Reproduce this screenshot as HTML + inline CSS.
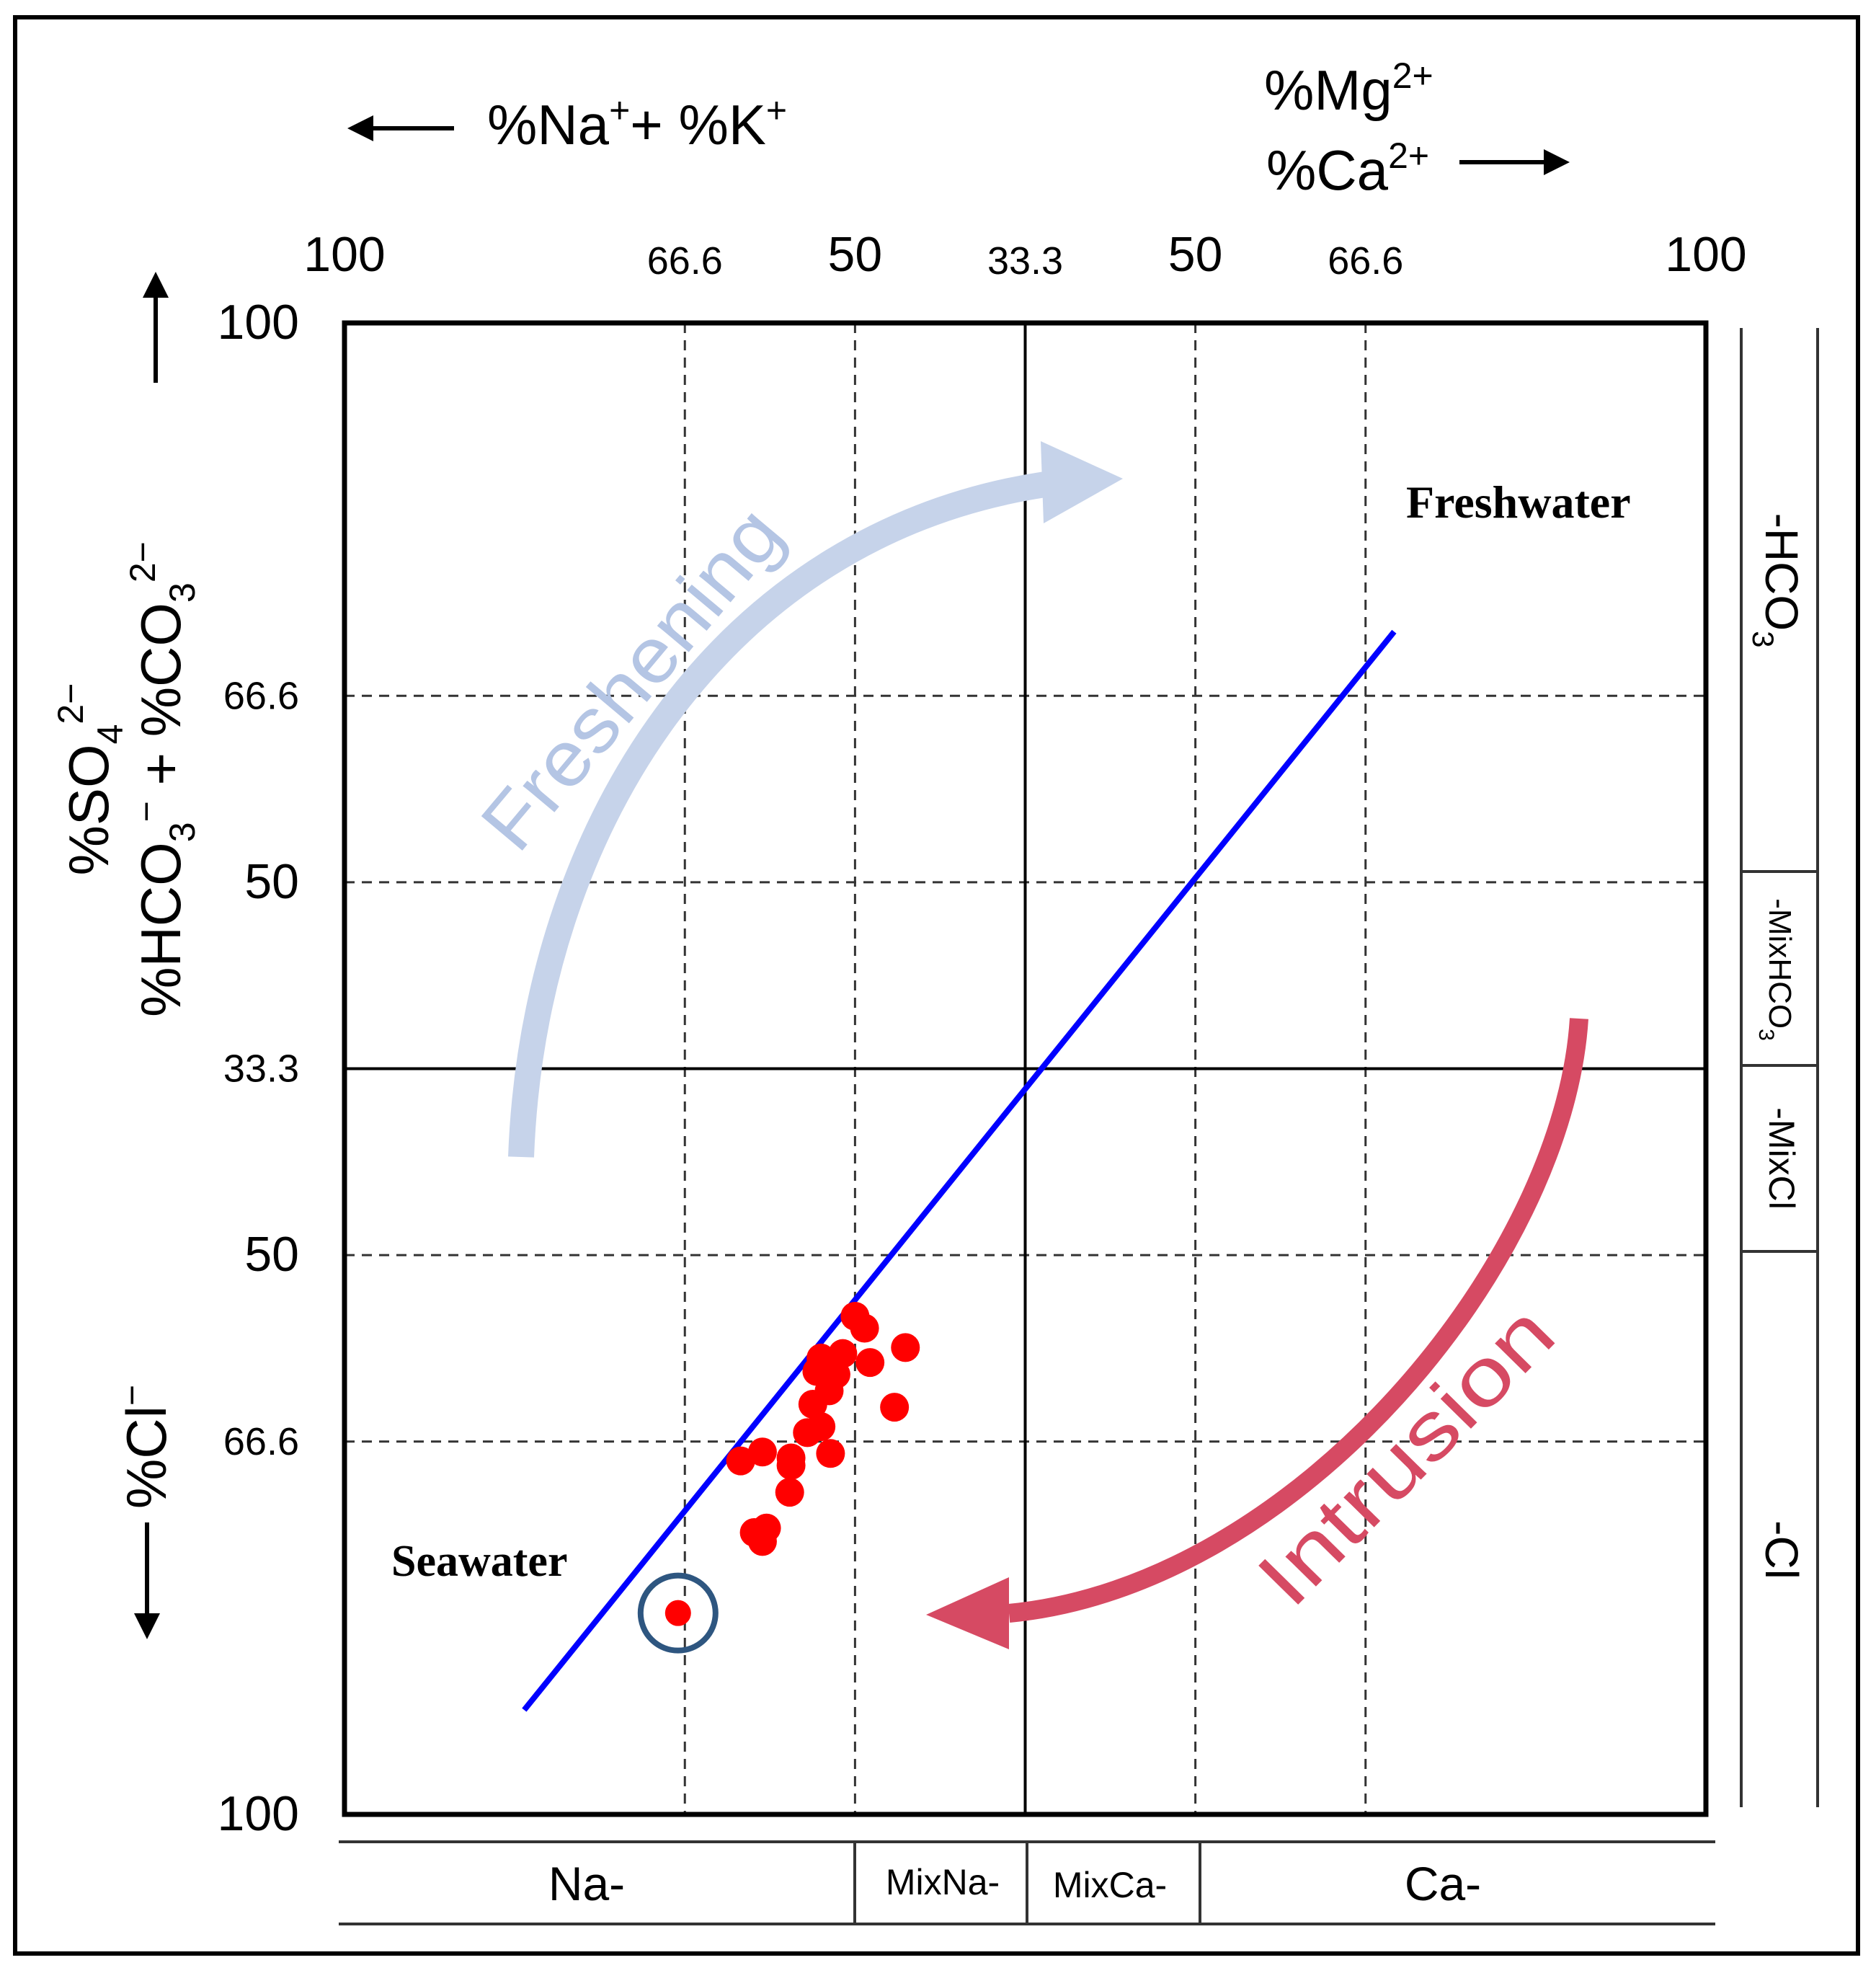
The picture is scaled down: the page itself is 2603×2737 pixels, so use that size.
<!DOCTYPE html>
<html><head><meta charset="utf-8"><style>
html,body{margin:0;padding:0;background:#fff}
svg{display:block}
text{font-family:"Liberation Sans",sans-serif;fill:#000}
.ser{font-family:"Liberation Serif",serif;font-weight:bold}
</style></head><body>
<svg id="chart" width="2603" height="2737" viewBox="0 0 2603 2737" xmlns="http://www.w3.org/2000/svg">
<defs>
<marker id="ah" markerWidth="6" markerHeight="6" refX="5" refY="3" orient="auto" markerUnits="strokeWidth"><path d="M0,0 L6,3 L0,6 Z" fill="#000"/></marker>
</defs>
<rect x="21" y="24" width="2557" height="2686" fill="none" stroke="#000" stroke-width="6"/>
<g id="grid"></g>
<g id="marks"></g>
<rect x="478" y="448" width="1889" height="2069" fill="none" stroke="#000" stroke-width="7"/>

<g>
<line x1="630" y1="178" x2="488" y2="178" stroke="#000" stroke-width="6" marker-end="url(#ah)"/>
<text x="676" y="200" font-size="78">%Na<tspan dy="-30" font-size="50">+</tspan><tspan dy="30">+ %K</tspan><tspan dy="-30" font-size="50">+</tspan></text>
</g>
<g>
<text x="1754" y="152" font-size="78">%Mg<tspan dy="-30" font-size="50">2+</tspan></text>
<text x="1757" y="263" font-size="78">%Ca<tspan dy="-30" font-size="50">2+</tspan></text>
<line x1="2025" y1="225" x2="2172" y2="225" stroke="#000" stroke-width="6" marker-end="url(#ah)"/>
</g>
<g>
<line x1="216" y1="531" x2="216" y2="383" stroke="#000" stroke-width="6" marker-end="url(#ah)"/>
<text transform="translate(150,1081) rotate(-90)" text-anchor="middle" font-size="78">%SO<tspan dy="20" font-size="50">4</tspan><tspan dy="-55" font-size="50">2−</tspan></text>
<text transform="translate(250,1081) rotate(-90)" text-anchor="middle" font-size="78">%HCO<tspan dy="20" font-size="50">3</tspan><tspan dy="-50" font-size="50">−</tspan><tspan dy="30"> + %CO</tspan><tspan dy="20" font-size="50">3</tspan><tspan dy="-55" font-size="50">2−</tspan></text>
</g>
<g>
<text transform="translate(230,2007) rotate(-90)" text-anchor="middle" font-size="78">%Cl<tspan dy="-30" font-size="50">−</tspan></text>
<line x1="204" y1="2112" x2="204" y2="2268" stroke="#000" stroke-width="6" marker-end="url(#ah)"/>
</g>
<g stroke="#333" stroke-width="4">
<line x1="2416" y1="455" x2="2416" y2="2507"/><line x1="2522" y1="455" x2="2522" y2="2507"/>
<line x1="2416" y1="1209" x2="2522" y2="1209"/><line x1="2416" y1="1478" x2="2522" y2="1478"/><line x1="2416" y1="1736" x2="2522" y2="1736"/>
</g>
<text transform="translate(2450,805) rotate(90)" text-anchor="middle" font-size="64">-HCO<tspan dy="18" font-size="42">3</tspan></text>
<text transform="translate(2455,1345) rotate(90)" text-anchor="middle" font-size="44">-MixHCO<tspan dy="14" font-size="30">3</tspan></text>
<text transform="translate(2455,1607) rotate(90)" text-anchor="middle" font-size="50">-MixCl</text>
<text transform="translate(2450,2150) rotate(90)" text-anchor="middle" font-size="64">-Cl</text>
<g stroke="#333" stroke-width="4">
<line x1="470" y1="2555" x2="2380" y2="2555"/><line x1="470" y1="2669" x2="2380" y2="2669"/>
<line x1="1186" y1="2555" x2="1186" y2="2669"/><line x1="1425" y1="2555" x2="1425" y2="2669"/><line x1="1665" y1="2555" x2="1665" y2="2669"/>
</g>
<text x="814" y="2636" text-anchor="middle" font-size="66">Na-</text>
<text x="1308" y="2628" text-anchor="middle" font-size="50">MixNa-</text>
<text x="1540" y="2632" text-anchor="middle" font-size="50">MixCa-</text>
<text x="2002" y="2636" text-anchor="middle" font-size="66">Ca-</text>

<g>
<path d="M723,1605 C740,1150 1000,740 1450,672" fill="none" stroke="#c6d3ea" stroke-width="36"/>
<path d="M1444,612 L1558,664 L1448,726 Z" fill="#c6d3ea"/>
<text transform="translate(905,965) rotate(-50)" text-anchor="middle" font-size="108" textLength="580" lengthAdjust="spacingAndGlyphs" style="fill:#b4c5e4">Freshening</text>
</g>
<g>
<path d="M2191,1413 C2170,1750 1800,2200 1400,2238" fill="none" stroke="#d64a63" stroke-width="26"/>
<path d="M1400,2188 L1285,2240 L1400,2288 Z" fill="#d64a63"/>
<text transform="translate(1978,2046) rotate(-45.5)" text-anchor="middle" font-size="112" textLength="530" lengthAdjust="spacingAndGlyphs" style="fill:#d64a63">Intrusion</text>
</g>
<text class="ser" x="1951" y="718" font-size="64">Freshwater</text>
<text class="ser" x="543" y="2186" font-size="62">Seawater</text>
</svg>
<script>
const gridX = [25, 37.5, 62.5, 75];
const gridY = [25, 37.5, 62.5, 75];
const midX = [50];
const midY = [50];
const topTickLabels = ["100", "66.6", "50", "33.3", "50", "66.6", "100"];
const topTickPos = [0, 25, 37.5, 50, 62.5, 75, 100];
const leftTickLabels = ["100", "66.6", "50", "33.3", "50", "66.6", "100"];
const leftTickPos = [0, 25, 37.5, 50, 62.5, 75, 100];
const ptX = [37.5,38.2,41.2,38.6,36.6,35.0,34.7,36.1,35.6,34.4,40.4,35.0,34.0,35.7,29.1,30.7,32.8,32.8,32.7,30.1,30.7,31.0,24.5];
const ptY = [66.6,67.4,68.7,69.7,69.1,69.4,70.3,70.5,71.6,72.5,72.7,74.0,74.4,75.8,76.3,75.7,76.1,76.6,78.4,81.1,81.7,80.8,86.5];
const lineX = [13.2, 77.1];
const lineY = [93.0, 20.7];
const highlightIdx = [22];

const L=478,T=448,W=1889,H=2069;
const sx=v=>L+v/100*W, sy=v=>T+v/100*H;
const NS="http://www.w3.org/2000/svg";
const grid=document.getElementById('grid'), marks=document.getElementById('marks'), svg=document.getElementById('chart');
function mk(tag,attrs,parent){const e=document.createElementNS(NS,tag);for(const k in attrs)e.setAttribute(k,attrs[k]);parent.appendChild(e);return e;}
gridX.forEach(v=>{const e=mk('line',{x1:sx(v),x2:sx(v),y1:T,y2:T+H,stroke:'#333','stroke-width':3,'stroke-dasharray':'14,10'},grid);

});
gridY.forEach(v=>{const e=mk('line',{x1:L,x2:L+W,y1:sy(v),y2:sy(v),stroke:'#333','stroke-width':3,'stroke-dasharray':'14,10'},grid);

});
midX.forEach(v=>{const e=mk('line',{x1:sx(v),x2:sx(v),y1:T,y2:T+H,stroke:'#000','stroke-width':4},grid);

});
midY.forEach(v=>{const e=mk('line',{x1:L,x2:L+W,y1:sy(v),y2:sy(v),stroke:'#000','stroke-width':4},grid);

});
topTickLabels.forEach((t,i)=>{const big=(t==="100"||t==="50");const e=mk('text',{x:sx(topTickPos[i]),y:T-72+(big?0:4),'text-anchor':'middle','font-size':big?68:54},svg);e.textContent=t;

});
leftTickLabels.forEach((t,i)=>{const big=(t==="100"||t==="50");const e=mk('text',{x:415,y:sy(leftTickPos[i])+(big?22:18),'text-anchor':'end','font-size':big?68:54},svg);e.textContent=t;

});
const bl=mk('line',{x1:sx(lineX[0]),y1:sy(lineY[0]),x2:sx(lineX[1]),y2:sy(lineY[1]),stroke:'#0000ff','stroke-width':8},marks);


ptX.forEach((x,i)=>{const c=mk('circle',{cx:sx(x),cy:sy(ptY[i]),r:i===22?18:20,fill:'#ff0000'},marks);

});
highlightIdx.forEach(i=>{const c=mk('circle',{cx:sx(ptX[i]),cy:sy(ptY[i]),r:52,fill:'none',stroke:'#2e5680','stroke-width':8},marks);

});
</script>
</body></html>
